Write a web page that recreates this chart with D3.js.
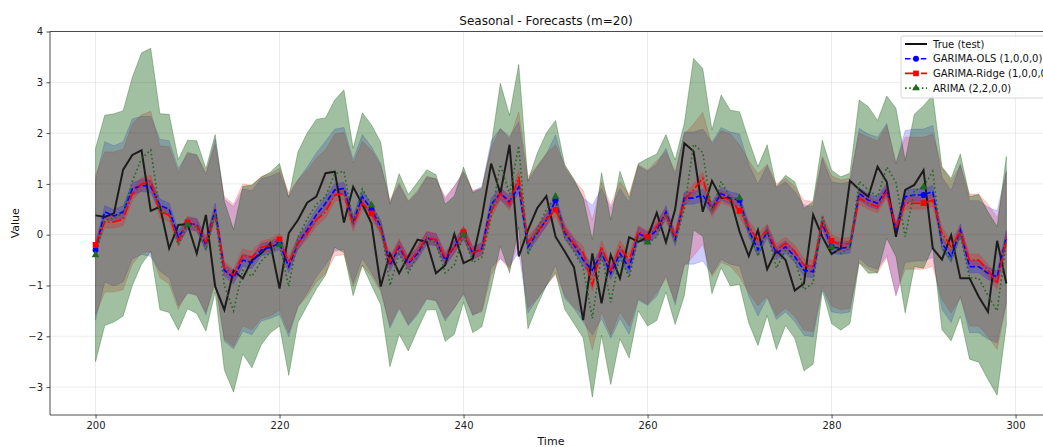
<!DOCTYPE html>
<html>
<head>
<meta charset="utf-8">
<script src="https://cdn.jsdelivr.net/npm/d3@7"></script>
<style>
  html, body { margin: 0; padding: 0; background: #fff; }
  svg { display: block; font-family: "DejaVu Sans", sans-serif; }
</style>
</head>
<body>
<svg id="chart" width="1043" height="447"></svg>
<script>
// Time index of the test window
const timeSteps = d3.range(200, 300);

// Observed series on the test window
const trueVals = [0.38, 0.35, 0.42, 1.28, 1.57, 1.66, 0.47, 0.55, -0.27, 0.19,
  0.21, -0.37, 0.39, -1.02, -1.48, -0.71, -0.86, -0.5, -0.37, -0.17,
  -1.06, 0.03, 0.29, 0.63, 0.75, 1.21, 1.24, 0.24, 0.94, 0.6,
  0.22, -1.02, -0.37, -0.76, -0.43, -0.1, -0.14, -0.76, -0.6, 0.01,
  -0.56, -0.47, 0.35, 1.4, 0.81, 1.77, -0.43, 0.09, 0.52, 0.76,
  -0.04, -0.33, -0.64, -1.68, -0.37, -1.35, -0.4, -0.86, -0.05, -0.14,
  -0.05, 0.43, -0.15, 0.5, 1.8, 1.64, 0.45, 1.06, 0.72, 0.72,
  0.06, -0.42, 0.09, -0.68, -0.31, -0.5, -1.1, -0.96, 0.39, -0.04,
  -0.38, -0.27, 1.06, 0.89, 0.75, 1.34, 1.04, -0.04, 0.88, 0.98,
  1.27, -0.27, -0.49, -0.01, -0.86, -0.86, -1.22, -1.52, -0.12, -0.96];

// GARIMA-OLS point forecasts
const olsVals = [-0.3, 0.45, 0.37, 0.45, 0.9, 0.97, 0.95, 0.58, 0.5, -0.05,
  0.22, 0.2, -0.2, 0.5, -0.7, -0.85, -0.5, -0.55, -0.3, -0.25,
  -0.17, -0.63, -0.17, 0.09, 0.39, 0.62, 0.88, 0.91, 0.26, 0.75,
  0.49, 0.16, -0.6, -0.24, -0.57, -0.37, -0.07, -0.1, -0.5, -0.24,
  0.03, -0.37, -0.27, 0.6, 0.81, 0.65, 0.94, -0.24, 0.03, 0.29,
  0.68, 0.03, -0.2, -0.5, -0.7, -0.37, -0.76, -0.37, -0.66, 0.03,
  -0.07, 0.09, 0.45, -0.1, 0.72, 0.72, 0.78, 0.52, 0.81, 0.72,
  0.68, 0.09, -0.3, 0.06, -0.37, -0.24, -0.43, -0.7, -0.73, 0.22,
  -0.24, -0.27, -0.24, 0.81, 0.68, 0.62, 0.89, 0.09, 0.75, 0.78,
  0.78, 0.85, -0.17, -0.43, 0.09, -0.63, -0.63, -0.76, -0.83, -0.04];

// GARIMA-Ridge point forecasts
const ridgeVals = [-0.2, 0.25, 0.25, 0.3, 0.8, 1.0, 1.05, 0.45, 0.38, -0.12,
  0.25, 0.18, -0.15, 0.4, -0.65, -0.8, -0.4, -0.45, -0.25, -0.2,
  -0.09, -0.55, -0.17, 0.03, 0.29, 0.45, 0.78, 0.81, 0.19, 0.62,
  0.42, 0.12, -0.55, -0.2, -0.55, -0.33, -0.05, -0.1, -0.45, -0.25,
  0.05, -0.35, -0.3, 0.45, 0.81, 0.6, 1.14, -0.15, 0.05, 0.3,
  0.49, 0.09, -0.18, -0.35, -0.99, -0.24, -0.7, -0.24, -0.5, 0.06,
  -0.05, 0.16, 0.39, -0.04, 0.68, 0.88, 1.11, 0.47, 0.75, 0.68,
  0.47, 0.16, -0.1, 0.09, -0.3, -0.17, -0.33, -0.6, -0.63, 0.26,
  -0.12, -0.2, -0.17, 0.72, 0.62, 0.55, 0.85, 0.12, 0.62, 0.62,
  0.62, 0.68, 0.03, -0.24, 0.06, -0.5, -0.5, -0.7, -0.96, -0.07];

// ARIMA point forecasts
const arimaVals = [-0.4, 0.28, 0.33, 0.42, 1.05, 1.5, 1.67, 0.45, 0.42, -0.2,
  0.2, 0.15, -0.3, 0.42, -1.0, -1.5, -0.7, -0.82, -0.52, -0.35,
  -0.2, -1.02, -0.05, 0.3, 0.6, 0.75, 1.2, 1.25, 0.25, 0.9,
  0.58, 0.22, -1.0, -0.38, -0.75, -0.42, -0.1, -0.15, -0.75, -0.6,
  0.0, -0.55, -0.45, 0.35, 1.38, 0.8, 1.75, -0.4, 0.1, 0.5,
  0.75, -0.05, -0.33, -0.65, -1.65, -0.38, -1.33, -0.4, -0.85, -0.05,
  -0.15, -0.05, 0.42, -0.15, 0.5, 1.78, 1.62, 0.45, 1.05, 0.72,
  0.72, 0.06, -0.42, 0.09, -0.66, -0.31, -0.5, -1.08, -0.95, 0.38,
  -0.24, -0.37, -0.27, 1.05, 0.88, 0.75, 1.33, 1.03, -0.04, 0.87,
  0.94, 1.25, -0.27, -0.49, -0.01, -0.85, -0.86, -1.2, -1.5, -0.12];

// Half-widths of the GARIMA prediction intervals (shared by OLS and Ridge)
const garimaHalf = [1.38, 1.38, 1.38, 1.38, 1.38, 1.36, 1.38, 1.3, 1.35, 1.35,
  1.38, 1.38, 1.38, 1.38, 1.4, 1.4, 1.4, 1.42, 1.4, 1.4,
  1.4, 1.38, 1.25, 1.24, 1.22, 1.22, 1.2, 1.2, 1.22, 1.22,
  1.24, 1.24, 1.24, 1.22, 1.22, 1.2, 1.2, 1.2, 1.2, 1.2,
  1.2, 1.22, 1.22, 1.25, 1.28, 1.28, 1.28, 1.3, 1.3, 1.3,
  1.28, 1.28, 1.25, 1.22, 1.28, 1.28, 1.28, 1.28, 1.3, 1.32,
  1.32, 1.3, 1.25, 1.28, 1.3, 1.3, 1.3, 1.3, 1.3, 1.3,
  1.3, 1.3, 1.3, 1.3, 1.3, 1.28, 1.28, 1.28, 1.28, 1.28,
  1.28, 1.28, 1.28, 1.28, 1.3, 1.3, 1.3, 1.3, 1.3, 1.3,
  1.3, 1.3, 1.3, 1.3, 1.3, 1.3, 1.3, 1.3, 1.3, 1.3];

// Half-widths of the ARIMA prediction interval
const arimaHalf = [2.1, 2.07, 2.05, 2.02, 2.05, 2.08, 2.0, 1.93, 1.95, 1.68,
  1.66, 1.7, 1.6, 1.55, 1.66, 1.6, 1.65, 1.8, 1.65, 1.58,
  1.6, 1.75, 1.68, 1.7, 1.67, 1.55, 1.45, 1.6, 1.45, 1.5,
  1.58, 1.6, 1.6, 1.58, 1.54, 1.45, 1.38, 1.33, 1.35, 1.36,
  1.33, 1.38, 1.36, 1.4, 1.6, 1.55, 1.6, 1.45, 1.5, 1.5,
  1.5, 1.42, 1.42, 1.38, 1.55, 1.6, 1.62, 1.65, 1.58, 1.45,
  1.65, 1.64, 1.55, 1.62, 1.7, 1.69, 1.65, 1.61, 1.7, 1.73,
  1.7, 1.8, 1.76, 1.68, 1.6, 1.48, 1.54, 1.6, 1.6, 1.48,
  1.51, 1.51, 1.48, 1.6, 1.64, 1.5, 1.4, 1.46, 1.5, 1.5,
  1.6, 1.5, 1.6, 1.6, 1.6, 1.6, 1.65, 1.65, 1.66, 1.66];

// Half-width of the narrow parameter band drawn around each GARIMA forecast
const innerHalf = 0.12;

const xTicks = [200, 220, 240, 260, 280, 300];
const yTicks = [-3, -2, -1, 0, 1, 2, 3, 4];
const legendLabels = ["True (test)", "GARIMA-OLS (1,0,0,0)", "GARIMA-Ridge (1,0,0,0)", "ARIMA (2,2,0,0)"];

const svg = d3.select("#chart");
const plotLeft = 50, plotRight = 1051.9, plotTop = 31.5, plotBottom = 415;

const x = d3.scaleLinear().domain([195.05, 303.95]).range([plotLeft, plotRight]);
const y = d3.scaleLinear().domain([-3.55, 4.0]).range([plotBottom, plotTop]);

svg.append("defs").append("clipPath").attr("id", "plotClip")
  .append("rect").attr("x", plotLeft).attr("y", plotTop)
  .attr("width", plotRight - plotLeft).attr("height", plotBottom - plotTop);

// grid
const grid = svg.append("g");
grid.selectAll(".gx").data(xTicks).join("line")
  .attr("x1", d => x(d)).attr("x2", d => x(d)).attr("y1", plotTop).attr("y2", plotBottom)
  .attr("stroke", "#b0b0b0").attr("stroke-opacity", 0.3).attr("stroke-width", 0.8);
grid.selectAll(".gy").data(yTicks).join("line")
  .attr("x1", plotLeft).attr("x2", plotRight).attr("y1", d => y(d)).attr("y2", d => y(d))
  .attr("stroke", "#b0b0b0").attr("stroke-opacity", 0.3).attr("stroke-width", 0.8);

const plot = svg.append("g").attr("clip-path", "url(#plotClip)");

function bandPath(center, half) {
  return d3.area()
    .x((d, i) => x(timeSteps[i]))
    .y0((d, i) => y(center[i] - half(i)))
    .y1((d, i) => y(center[i] + half(i)))(center);
}
function drawBand(center, half, color, alpha) {
  plot.append("path")
    .attr("d", bandPath(center, half))
    .attr("fill", color).attr("fill-opacity", alpha)
    .attr("stroke", color).attr("stroke-opacity", alpha).attr("stroke-width", 0.8);
}

const olsColor = "#0000ff", ridgeColor = "#ff0000", arimaFill = "rgb(0,82,0)", arimaLine = "#1e6b1e";

// wide prediction intervals
drawBand(olsVals, i => garimaHalf[i], olsColor, 0.2);
drawBand(ridgeVals, i => garimaHalf[i], ridgeColor, 0.2);
drawBand(arimaVals, i => arimaHalf[i], arimaFill, 0.37);
// narrow bands around the GARIMA forecasts
drawBand(olsVals, () => innerHalf, olsColor, 0.22);
drawBand(ridgeVals, () => innerHalf, ridgeColor, 0.22);

const line = vals => d3.line().x((d, i) => x(timeSteps[i])).y(d => y(d))(vals);

plot.append("path").attr("d", line(trueVals)).attr("fill", "none")
  .attr("stroke", "#111").attr("stroke-opacity", 0.9).attr("stroke-width", 2);
plot.append("path").attr("d", line(olsVals)).attr("fill", "none")
  .attr("stroke", olsColor).attr("stroke-width", 1.6).attr("stroke-dasharray", "5.5,2.4");
plot.append("path").attr("d", line(ridgeVals)).attr("fill", "none")
  .attr("stroke", ridgeColor).attr("stroke-width", 1.6).attr("stroke-dasharray", "9.6,2.4,1.6,2.4");
plot.append("path").attr("d", line(arimaVals)).attr("fill", "none")
  .attr("stroke", arimaLine).attr("stroke-width", 1.6).attr("stroke-dasharray", "1.6,2.6");

// markers every 10 steps
const markIdx = timeSteps.map((t, i) => i).filter(i => i % 10 === 0);
const sym = (type, size) => d3.symbol().type(type).size(size)();
function drawMarkers(vals, type, size, color) {
  plot.selectAll(null).data(markIdx).join("path")
    .attr("d", sym(type, size))
    .attr("transform", i => `translate(${x(timeSteps[i])},${y(vals[i])})`)
    .attr("fill", color);
}
drawMarkers(olsVals, d3.symbolCircle, 28, olsColor);
drawMarkers(ridgeVals, d3.symbolSquare, 32, ridgeColor);
drawMarkers(arimaVals, d3.symbolTriangle, 26, arimaLine);

// axes
const axisColor = "#222";
const xAxis = svg.append("g").attr("transform", `translate(0,${plotBottom})`)
  .call(d3.axisBottom(x).tickValues(xTicks).tickSize(3.5).tickPadding(3.5).tickFormat(d3.format("d")));
const yAxis = svg.append("g").attr("transform", `translate(${plotLeft},0)`)
  .call(d3.axisLeft(y).tickValues(yTicks).tickSize(3.5).tickPadding(3.5)
    .tickFormat(d => d < 0 ? "\u2212" + Math.abs(d) : d));
[xAxis, yAxis].forEach(a => {
  a.select(".domain").remove();
  a.selectAll("line").attr("stroke", axisColor).attr("stroke-width", 0.8);
  a.selectAll("text").attr("fill", axisColor).attr("font-size", 10).attr("font-family", "DejaVu Sans");
});

// spines
svg.append("line").attr("x1", plotLeft).attr("x2", plotLeft).attr("y1", plotTop).attr("y2", plotBottom)
  .attr("stroke", axisColor).attr("stroke-width", 0.8);
svg.append("line").attr("x1", plotLeft).attr("x2", plotRight).attr("y1", plotBottom).attr("y2", plotBottom)
  .attr("stroke", axisColor).attr("stroke-width", 0.8);
svg.append("line").attr("x1", plotLeft).attr("x2", plotRight).attr("y1", plotTop).attr("y2", plotTop)
  .attr("stroke", axisColor).attr("stroke-width", 0.8);

// labels
svg.append("text").attr("x", 546).attr("y", 25).attr("text-anchor", "middle")
  .attr("font-size", 12).attr("fill", "#111").text("Seasonal - Forecasts (m=20)");
svg.append("text").attr("x", (plotLeft + plotRight) / 2).attr("y", 445).attr("text-anchor", "middle")
  .attr("font-size", 11).attr("fill", "#111").text("Time");
svg.append("text").attr("transform", `translate(19,${(plotTop + plotBottom) / 2}) rotate(-90)`)
  .attr("text-anchor", "middle").attr("font-size", 11).attr("fill", "#111").text("Value");

// legend
const lg = svg.append("g").attr("transform", "translate(901,36)");
lg.append("rect").attr("x", 0).attr("y", 0).attr("width", 170).attr("height", 62).attr("rx", 2)
  .attr("fill", "#fff").attr("fill-opacity", 0.85).attr("stroke", "#ccc").attr("stroke-width", 0.8);
const legendStyles = [
  { color: "#111", dash: null, width: 2, marker: null },
  { color: olsColor, dash: "5.5,2.4", width: 1.6, marker: d3.symbolCircle, size: 28 },
  { color: ridgeColor, dash: "9.6,2.4,1.6,2.4", width: 1.6, marker: d3.symbolSquare, size: 32 },
  { color: arimaLine, dash: "1.6,2.6", width: 1.6, marker: d3.symbolTriangle, size: 26 }
];
legendLabels.forEach((label, i) => {
  const st = legendStyles[i];
  const gy = 8 + i * 14.7;
  lg.append("line").attr("x1", 4).attr("x2", 26).attr("y1", gy).attr("y2", gy)
    .attr("stroke", st.color).attr("stroke-width", st.width)
    .attr("stroke-dasharray", st.dash);
  if (st.marker) {
    lg.append("path").attr("d", sym(st.marker, st.size)).attr("transform", `translate(15,${gy})`)
      .attr("fill", st.color);
  }
  lg.append("text").attr("x", 32).attr("y", gy + 3.5).attr("font-size", 10).attr("fill", "#111").text(label);
});
</script>
</body>
</html>
